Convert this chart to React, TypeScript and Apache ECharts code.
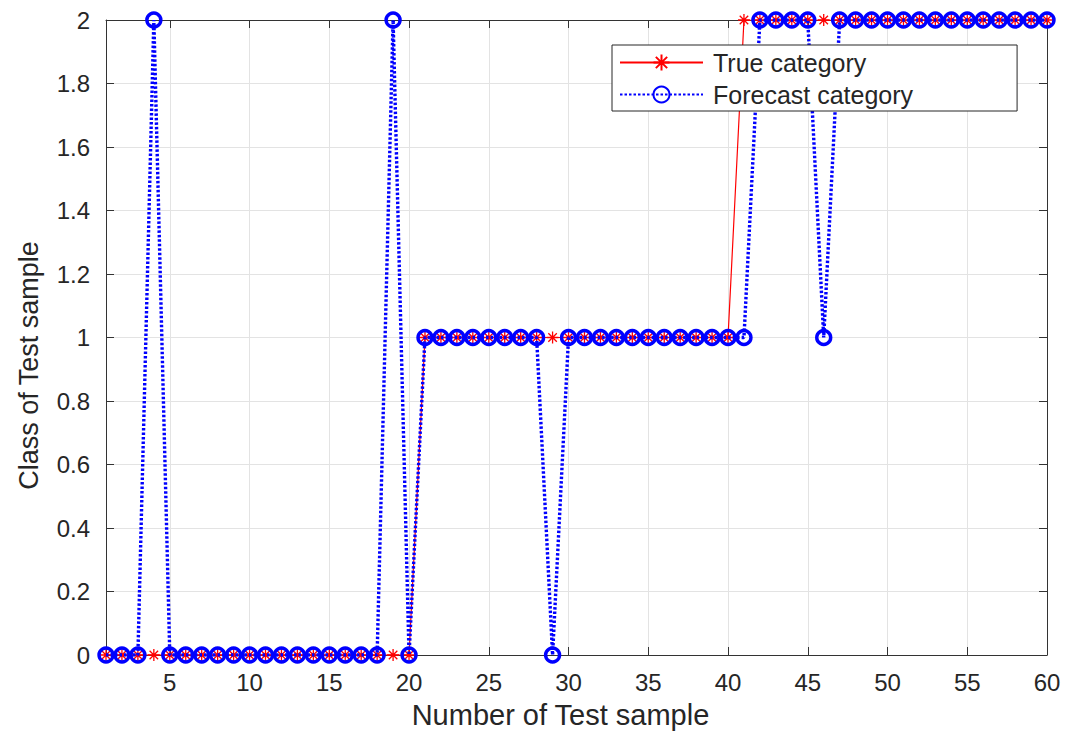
import React, { useEffect, useRef } from "react";
import * as echarts from "echarts";

const sampleNumbers = [
  1, 2, 3, 4, 5, 6, 7, 8, 9, 10, 11, 12, 13, 14, 15, 16, 17, 18, 19, 20,
  21, 22, 23, 24, 25, 26, 27, 28, 29, 30, 31, 32, 33, 34, 35, 36, 37, 38, 39, 40,
  41, 42, 43, 44, 45, 46, 47, 48, 49, 50, 51, 52, 53, 54, 55, 56, 57, 58, 59, 60,
];

const trueCategory = [
  0, 0, 0, 0, 0, 0, 0, 0, 0, 0, 0, 0, 0, 0, 0, 0, 0, 0, 0, 0,
  1, 1, 1, 1, 1, 1, 1, 1, 1, 1, 1, 1, 1, 1, 1, 1, 1, 1, 1, 1,
  2, 2, 2, 2, 2, 2, 2, 2, 2, 2, 2, 2, 2, 2, 2, 2, 2, 2, 2, 2,
];

const forecastCategory = [
  0, 0, 0, 2, 0, 0, 0, 0, 0, 0, 0, 0, 0, 0, 0, 0, 0, 0, 2, 0,
  1, 1, 1, 1, 1, 1, 1, 1, 0, 1, 1, 1, 1, 1, 1, 1, 1, 1, 1, 1,
  1, 2, 2, 2, 2, 1, 2, 2, 2, 2, 2, 2, 2, 2, 2, 2, 2, 2, 2, 2,
];

const xTickValues = [5, 10, 15, 20, 25, 30, 35, 40, 45, 50, 55, 60];

const seriesNames = ["True category", "Forecast category"];
const xAxisTitle = "Number of Test sample";
const yAxisTitle = "Class of Test sample";

const FONT = "'Liberation Sans', Arial, Helvetica, sans-serif";
const TEXT = "#262626";
const AXIS = "#333333";
const GRID = "#e3e3e3";

const asterisk =
  "path://M0,-10L0,10M-10,0L10,0M-7.07,-7.07L7.07,7.07M-7.07,7.07L7.07,-7.07";

export default function App() {
  const ref = useRef<HTMLDivElement>(null);

  useEffect(() => {
    document.body.style.margin = "0";
    if (!ref.current) return;
    const chart = echarts.init(ref.current, undefined, { renderer: "svg" });

    const xAxisBase = {
      type: "value" as const,
      min: 1,
      max: 60,
      axisLine: { show: true, onZero: false, lineStyle: { color: AXIS, width: 1 } },
      axisTick: { show: true, inside: true, length: 8, customValues: xTickValues, lineStyle: { color: AXIS } },
    };
    const yAxisBase = {
      type: "value" as const,
      min: 0,
      max: 2,
      interval: 0.2,
      axisLine: { show: true, onZero: false, lineStyle: { color: AXIS, width: 1 } },
      axisTick: { show: true, inside: true, length: 8, lineStyle: { color: AXIS } },
    };

    chart.setOption({
      animation: false,
      backgroundColor: "#ffffff",
      textStyle: { fontFamily: FONT },
      grid: { left: 106, right: 31, top: 20, bottom: 79, containLabel: false },
      legend: {
        orient: "vertical",
        left: 612,
        top: 45,
        padding: [5, 104, 4, 7],
        itemWidth: 83,
        itemHeight: 20,
        itemGap: 7,
        backgroundColor: "#ffffff",
        borderColor: "#262626",
        borderWidth: 1,
        borderRadius: 0,
        textStyle: { fontFamily: FONT, fontSize: 25, color: TEXT, padding: [0, 0, 0, 5] },
        data: seriesNames,
      },
      xAxis: [
        {
          ...xAxisBase,
          position: "bottom",
          name: xAxisTitle,
          nameLocation: "middle",
          nameGap: 45,
          nameTextStyle: { fontFamily: FONT, fontSize: 29, color: TEXT, padding: [0, 32, 0, 0] },
          axisLabel: {
            show: true,
            customValues: xTickValues,
            margin: 15,
            fontFamily: FONT,
            fontSize: 24,
            color: TEXT,
          },
          splitLine: { show: true, lineStyle: { color: GRID, width: 1 } },
        },
        {
          ...xAxisBase,
          position: "top",
          axisLabel: { show: false },
          splitLine: { show: false },
        },
      ],
      yAxis: [
        {
          ...yAxisBase,
          position: "left",
          name: yAxisTitle,
          nameLocation: "middle",
          nameGap: 64,
          nameTextStyle: { fontFamily: FONT, fontSize: 27, color: TEXT, padding: [0, 56, 0, 0] },
          axisLabel: {
            show: true,
            margin: 16,
            fontFamily: FONT,
            fontSize: 24,
            color: TEXT,
            formatter: (v: number) => String(Number(v.toFixed(1))),
          },
          splitLine: { show: true, lineStyle: { color: GRID, width: 1 } },
        },
        {
          ...yAxisBase,
          position: "right",
          axisLabel: { show: false },
          splitLine: { show: false },
        },
      ],
      series: [
        {
          name: seriesNames[0],
          type: "line",
          xAxisIndex: 0,
          yAxisIndex: 0,
          z: 2,
          data: sampleNumbers.map((x, i) => [x, trueCategory[i]]),
          symbol: asterisk,
          symbolSize: 12,
          showAllSymbol: true,
          lineStyle: { color: "#ff0000", width: 1.2, type: "solid" },
          itemStyle: { color: "rgba(0,0,0,0)", borderColor: "#ff0000", borderWidth: 1.3 },
          emphasis: { disabled: true },
        },
        {
          name: seriesNames[1],
          type: "line",
          xAxisIndex: 0,
          yAxisIndex: 0,
          z: 3,
          data: sampleNumbers.map((x, i) => [x, forecastCategory[i]]),
          symbol: "circle",
          symbolSize: 14,
          showAllSymbol: true,
          lineStyle: { color: "#0000ff", width: 3.4, type: [2.5, 2] },
          itemStyle: { color: "rgba(0,0,0,0)", borderColor: "#0000ff", borderWidth: 3.4 },
          emphasis: { disabled: true },
        },
      ],
    });

    return () => chart.dispose();
  }, []);

  return <div ref={ref} style={{ width: 1078, height: 734 }} />;
}
